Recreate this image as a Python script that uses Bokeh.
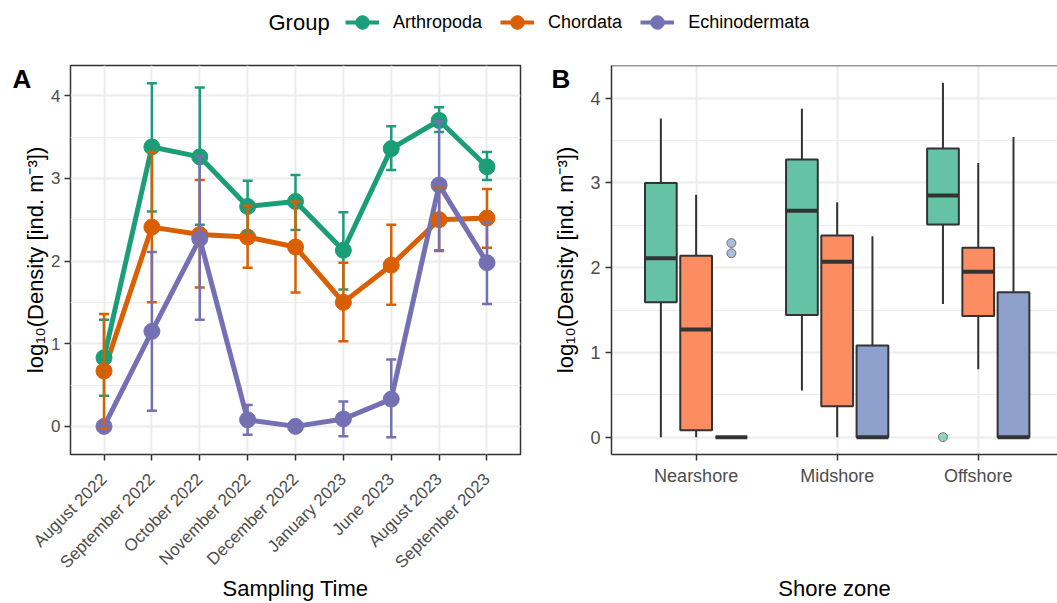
import numpy as np
from bokeh.plotting import figure
from bokeh.models import (Range1d, FactorRange, FixedTicker, Legend, LegendItem,
                          Label, Span)
from bokeh.layouts import column, row
from bokeh.embed import file_html
from bokeh.resources import INLINE
from math import pi

FONT = "Liberation Sans"

# ---------------- data ----------------
groups = ["Arthropoda", "Chordata", "Echinodermata"]
line_colors = ["#1B9E77", "#D95F02", "#7570B3"]
box_colors = ["#66C2A5", "#FC8D62", "#8DA0CB"]

months = ["August 2022", "September 2022", "October 2022", "November 2022",
          "December 2022", "January 2023", "June 2023", "August 2023",
          "September 2023"]

arth_mean = [0.83, 3.38, 3.26, 2.66, 2.72, 2.13, 3.36, 3.70, 3.14]
arth_upper = [1.29, 4.15, 4.10, 2.97, 3.04, 2.59, 3.63, 3.86, 3.32]
arth_lower = [0.37, 2.60, 2.44, 2.355, 2.375, 1.655, 3.10, 3.56, 2.98]

chord_mean = [0.67, 2.41, 2.32, 2.29, 2.17, 1.50, 1.95, 2.50, 2.52]
chord_upper = [1.36, 3.32, 2.98, 2.67, 2.72, 1.98, 2.44, 2.89, 2.87]
chord_lower = [-0.02, 1.50, 1.68, 1.92, 1.62, 1.03, 1.47, 2.12, 2.16]

echi_mean = [0.0, 1.15, 2.27, 0.08, 0.0, 0.09, 0.33, 2.92, 1.98]
echi_upper = [0.0, 2.11, 3.27, 0.26, 0.0, 0.30, 0.81, 3.69, 2.47]
echi_lower = [0.0, 0.19, 1.29, -0.10, 0.0, -0.12, -0.13, 2.13, 1.48]

zones = ["Nearshore", "Midshore", "Offshore"]

arth_whislo = [0.0, 0.55, 1.57]
arth_q1 = [1.59, 1.44, 2.51]
arth_med = [2.11, 2.67, 2.85]
arth_q3 = [3.00, 3.275, 3.405]
arth_whishi = [3.76, 3.875, 4.18]

chord_whislo = [0.0, 0.0, 0.80]
chord_q1 = [0.08, 0.365, 1.43]
chord_med = [1.27, 2.07, 1.95]
chord_q3 = [2.14, 2.38, 2.235]
chord_whishi = [2.86, 2.77, 3.235]

echi_whislo = [0.0, 0.0, 0.0]
echi_q1 = [0.0, 0.0, 0.0]
echi_med = [0.0, 0.0, 0.0]
echi_q3 = [0.0, 1.08, 1.71]
echi_whishi = [0.0, 2.37, 3.54]

outlier_group = ["Echinodermata", "Echinodermata", "Arthropoda"]
outlier_zone = ["Nearshore", "Nearshore", "Offshore"]
outlier_value = [2.29, 2.17, 0.0]

ts_means = [arth_mean, chord_mean, echi_mean]
ts_upper = [arth_upper, chord_upper, echi_upper]
ts_lower = [arth_lower, chord_lower, echi_lower]
bx = [
    dict(lo=arth_whislo, q1=arth_q1, med=arth_med, q3=arth_q3, hi=arth_whishi),
    dict(lo=chord_whislo, q1=chord_q1, med=chord_med, q3=chord_q3, hi=chord_whishi),
    dict(lo=echi_whislo, q1=echi_q1, med=echi_med, q3=echi_q3, hi=echi_whishi),
]

YLABEL = "log\u2081\u2080(Density [ind. m\u207b\u00b3])"


def style(p, tick_fs):
    p.background_fill_color = "white"
    p.border_fill_color = "white"
    for ax in p.axis:
        ax.axis_line_color = None
        ax.major_tick_line_color = "#333333"
        ax.major_tick_line_width = 1.5
        ax.major_tick_out = 6
        ax.major_tick_in = 0
        ax.minor_tick_line_color = None
        ax.major_label_text_color = "#4D4D4D"
        ax.major_label_text_font = FONT
        ax.major_label_text_font_size = tick_fs
        ax.axis_label_text_font = FONT
        ax.axis_label_text_font_size = "22px"
        ax.axis_label_text_font_style = "normal"
        ax.axis_label_text_color = "black"
    p.xgrid.grid_line_color = "#EBEBEB"
    p.xgrid.grid_line_width = 2
    p.ygrid.grid_line_color = "#EBEBEB"
    p.ygrid.grid_line_width = 2
    p.ygrid.minor_grid_line_color = "#EBEBEB"
    p.ygrid.minor_grid_line_width = 1.2


# ---------------- panel A ----------------
pA = figure(width=530, height=543,
            x_range=FactorRange(factors=months, range_padding=0.2,
                                range_padding_units="absolute"),
            y_range=Range1d(-0.34, 4.365),
            output_backend="svg", toolbar_location=None,
            min_border_left=70, min_border_right=10,
            min_border_top=5, min_border_bottom=149)
pA.yaxis.ticker = FixedTicker(ticks=[0, 1, 2, 3, 4], minor_ticks=[0.5, 1.5, 2.5, 3.5])
style(pA, "17px")
pA.outline_line_color = "#333333"
pA.outline_line_width = 1.5
pA.xaxis.major_label_orientation = pi / 4
pA.xaxis.major_label_standoff = 16
pA.xaxis.axis_label = "Sampling Time"
pA.xaxis.axis_label_standoff = -6
pA.yaxis.axis_label = YLABEL
pA.yaxis.major_label_standoff = 4
pA.yaxis.axis_label_standoff = 0

for g, c in enumerate(line_colors):
    pA.line(x=months, y=ts_means[g], line_color=c, line_width=5, line_join="round")
for g, c in enumerate(line_colors):
    pA.scatter(x=months, y=ts_means[g], size=16, fill_color=c, line_color=c)
for g, c in enumerate(line_colors):
    pA.segment(x0=months, y0=ts_lower[g], x1=months, y1=ts_upper[g],
               line_color=c, line_width=2.5)
    pA.scatter(x=months, y=ts_upper[g], marker="dash", size=10, line_color=c, line_width=2.5)
    pA.scatter(x=months, y=ts_lower[g], marker="dash", size=10, line_color=c, line_width=2.5)

pA.add_layout(Label(x=12, y=3, x_units="canvas", y_units="canvas", text="A",
                    text_font=FONT, text_font_size="26px", text_font_style="bold",
                    text_baseline="top", text_color="black"), "left")

# ---------------- panel B ----------------
pB = figure(width=527, height=543,
            x_range=Range1d(0.4, 3.562), y_range=Range1d(-0.205, 4.385),
            output_backend="svg", toolbar_location=None,
            min_border_left=81, min_border_right=0,
            min_border_top=5, min_border_bottom=149)
pB.xaxis.ticker = FixedTicker(ticks=[i + 1 for i in range(len(zones))])
pB.xaxis.major_label_overrides = {i + 1: z for i, z in enumerate(zones)}
pB.yaxis.ticker = FixedTicker(ticks=[0, 1, 2, 3, 4], minor_ticks=[0.5, 1.5, 2.5, 3.5])
style(pB, "18px")
pB.outline_line_color = None
pB.yaxis.axis_line_color = "#333333"
pB.yaxis.axis_line_width = 1.5
pB.xaxis.axis_line_color = "#333333"
pB.xaxis.axis_line_width = 1.5
pB.add_layout(Span(location=4.385, dimension="width", line_color="#333333", line_width=1.5))
pB.xaxis.axis_label = "Shore zone"
pB.xaxis.axis_label_standoff = 87
pB.yaxis.axis_label = YLABEL
pB.yaxis.axis_label_standoff = 9

dodge_w = 0.75
box_w = 0.225
offsets = [(-dodge_w / 3), 0.0, (dodge_w / 3)]
for g, c in enumerate(box_colors):
    xs = [zi + 1 + offsets[g] for zi in range(len(zones))]
    d = bx[g]
    pB.segment(x0=xs, y0=d["q3"], x1=xs, y1=d["hi"], line_color="#333333", line_width=2)
    pB.segment(x0=xs, y0=d["q1"], x1=xs, y1=d["lo"], line_color="#333333", line_width=2)
    pB.vbar(x=xs, width=box_w, top=d["q3"], bottom=d["q1"], fill_color=c,
            line_color="#333333", line_width=2)
    pB.segment(x0=[x - box_w / 2 for x in xs], y0=d["med"],
               x1=[x + box_w / 2 for x in xs], y1=d["med"],
               line_color="#333333", line_width=4)

ox = [zones.index(z) + 1 + offsets[groups.index(g)] for z, g in zip(outlier_zone, outlier_group)]
oc = [box_colors[groups.index(g)] for g in outlier_group]
pB.scatter(x=ox, y=outlier_value, size=9, fill_color=oc, fill_alpha=0.7,
           line_color="#333333", line_alpha=0.6, line_width=1)

pB.add_layout(Label(x=21, y=3, x_units="canvas", y_units="canvas", text="B",
                    text_font=FONT, text_font_size="26px", text_font_style="bold",
                    text_baseline="top", text_color="black"), "left")

# ---------------- legend strip ----------------
pL = figure(width=1057, height=60, x_range=Range1d(0, 1), y_range=Range1d(0, 1),
            x_axis_location=None, y_axis_location=None,
            output_backend="svg", toolbar_location=None, min_border=0)
pL.outline_line_color = None
pL.grid.visible = False
items = []
for g, c in zip(groups, line_colors):
    lr = pL.line(x=np.array([np.nan]), y=np.array([np.nan]), line_color=c, line_width=4)
    sr = pL.scatter(x=np.array([np.nan]), y=np.array([np.nan]), size=15,
                    fill_color=c, line_color=c)
    items.append(LegendItem(label=g, renderers=[lr, sr]))
leg = Legend(items=items, orientation="horizontal", location=(345, 18),
             label_text_font=FONT, label_text_font_size="18px",
             label_text_color="black", label_standoff=14, spacing=18,
             glyph_width=34, glyph_height=40, padding=0, margin=0,
             border_line_color=None, background_fill_alpha=0)
pL.add_layout(leg)
pL.add_layout(Label(x=268, y=22, x_units="canvas", y_units="canvas", text="Group",
                    text_font=FONT, text_font_size="22px", text_baseline="middle",
                    text_color="black"))

layout = column(pL, row(pA, pB))
open("out.html", "w").write(file_html(layout, INLINE))
